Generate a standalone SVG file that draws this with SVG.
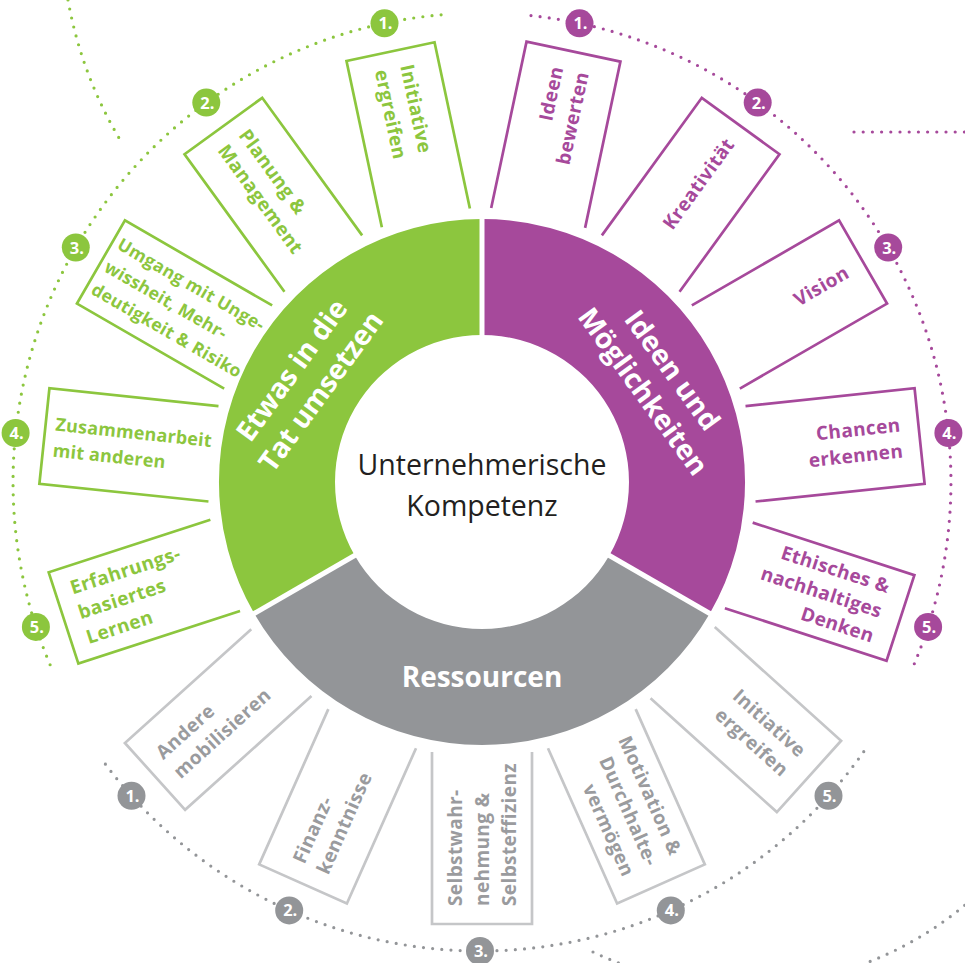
<svg xmlns="http://www.w3.org/2000/svg" width="965" height="963" viewBox="0 0 965 963">
<style>
.fr{fill:none;stroke-width:2.7}
.gf{stroke:#8cc63e}.pf{stroke:#a6499b}.yf{stroke:#c5c6c8}
.lb{font-family:'Open Sans','Noto Sans',sans-serif;font-weight:700;font-size:19px;letter-spacing:0.4px}
.gt{fill:#8cc63e}.pt{fill:#a6499b}.yt{fill:#9a9b9e}
.end{text-anchor:end}
.dot{fill:none;stroke-width:3.2;stroke-linecap:round;stroke-dasharray:0 9.2}
.num{font-family:'Open Sans','Noto Sans',sans-serif;font-weight:700;font-size:16.5px;fill:#fff;text-anchor:middle}
.seg{font-family:'Open Sans','Noto Sans',sans-serif;font-weight:700;font-size:28px;fill:#fff;text-anchor:middle}
.ctr{font-family:'Open Sans','Noto Sans',sans-serif;font-size:28.5px;fill:#231f20;text-anchor:middle}
</style>
<rect width="965" height="963" fill="#fff"/>
<g id="connectors">
<path class="dot" stroke="#8cc63e" d="M441.1,14.8 A469,469 0 0 0 53.6,672.8"/>
<path class="dot" stroke="#8cc63e" d="M68,0 A416,416 0 0 0 122,143"/>
<path class="dot" stroke="#a6499b" d="M531,15.6 A469,469 0 0 1 913.7,665.2"/>
<path class="dot" stroke="#a6499b" d="M854,132 H965"/>
<path class="dot" stroke="#939598" d="M105.4,764.2 A469,469 0 0 0 864.2,751"/>
<path class="dot" stroke="#939598" d="M593,952 A347,347 0 0 0 965,905"/>
</g>
<g id="ring">
<path id="seg-green" fill="#8cc63e" d="M482,219 A263,263 0 0 0 254.2,613.5 L354.7,555.5 A147,147 0 0 1 482,335 Z"/>
<path id="seg-purple" fill="#a6499b" d="M482,219 A263,263 0 0 1 709.8,613.5 L609.3,555.5 A147,147 0 0 0 482,335 Z"/>
<path id="seg-gray" fill="#939598" d="M254.2,613.5 A263,263 0 0 0 709.8,613.5 L609.3,555.5 A147,147 0 0 1 354.7,555.5 Z"/>
<g stroke="#fff" stroke-width="5">
<line x1="482" y1="340" x2="482" y2="212"/>
<line x1="356.4" y1="554.5" x2="249" y2="616.5"/>
<line x1="607.6" y1="554.5" x2="715" y2="616.5"/>
</g>
<text class="seg" transform="translate(304.5,379.5) rotate(-54)"><tspan x="0" y="-6">Etwas in die</tspan><tspan x="0" y="30">Tat umsetzen</tspan></text>
<text class="seg" transform="translate(659.5,379.5) rotate(54)"><tspan x="0" y="-6">Ideen und</tspan><tspan x="0" y="30">Möglichkeiten</tspan></text>
<text class="seg" x="482" y="687">Ressourcen</text>
</g>
<g id="center">
<text class="ctr" x="482" y="475">Unternehmerische</text>
<text class="ctr" x="482" y="516">Kompetenz</text>
</g>
<g id="box-g1" transform="translate(482,482) rotate(-102)"><path class="fr gf" d="M270,-45H440V45H270"/><text class="lb gt" transform="translate(424,0) rotate(180)"><tspan x="0" y="-6.5">Initiative</tspan><tspan x="0" y="19.5">ergreifen</tspan></text></g>
<g id="box-g2" transform="translate(482,482) rotate(-126)"><path class="fr gf" d="M270,-48H440V48H270"/><text class="lb gt" transform="translate(424,0) rotate(180)"><tspan x="0" y="-6.5">Planung &amp;</tspan><tspan x="0" y="19.5">Management</tspan></text></g>
<g id="box-g3" transform="translate(482,482) rotate(-150)"><path class="fr gf" d="M270,-48H440V48H270"/><text class="lb gt" style="font-size:17.5px;letter-spacing:0.3px" transform="translate(434,0) rotate(180)"><tspan x="0" y="-19.5">Umgang mit Unge-</tspan><tspan x="0" y="6.5">wissheit, Mehr-</tspan><tspan x="0" y="32.5">deutigkeit &amp; Risiko</tspan></text></g>
<g id="box-g4" transform="translate(482,482) rotate(-174)"><path class="fr gf" d="M270,-48H440V48H270"/><text class="lb gt" style="font-size:18px;letter-spacing:0.2px" transform="translate(430,0) rotate(180)"><tspan x="0" y="-6.5">Zusammenarbeit</tspan><tspan x="0" y="19.5">mit anderen</tspan></text></g>
<g id="box-g5" transform="translate(482,482) rotate(-198)"><path class="fr gf" d="M270,-48H440V48H270"/><text class="lb gt" transform="translate(424,0) rotate(180)"><tspan x="0" y="-19.5">Erfahrungs-</tspan><tspan x="0" y="6.5">basiertes</tspan><tspan x="0" y="32.5">Lernen</tspan></text></g>
<g id="box-p1" transform="translate(482,482) rotate(-78)"><path class="fr pf" d="M270,-48H440V48H270"/><text class="lb pt end" transform="translate(422,0)"><tspan x="0" y="-6.5">Ideen</tspan><tspan x="0" y="19.5">bewerten</tspan></text></g>
<g id="box-p2" transform="translate(482,482) rotate(-54)"><path class="fr pf" d="M270,-48H440V48H270"/><text class="lb pt end" transform="translate(422,0)"><tspan x="0" y="6.5">Kreativität</tspan></text></g>
<g id="box-p3" transform="translate(482,482) rotate(-30)"><path class="fr pf" d="M270,-48H440V48H270"/><text class="lb pt end" transform="translate(422,0)"><tspan x="0" y="6.5">Vision</tspan></text></g>
<g id="box-p4" transform="translate(482,482) rotate(-6)"><path class="fr pf" d="M270,-48H440V48H270"/><text class="lb pt end" transform="translate(422,0)"><tspan x="0" y="-6.5">Chancen</tspan><tspan x="0" y="19.5">erkennen</tspan></text></g>
<g id="box-p5" transform="translate(482,482) rotate(18)"><path class="fr pf" d="M270,-45H440V45H270"/><text class="lb pt end" transform="translate(420,0)"><tspan x="0" y="-19.5">Ethisches &amp;</tspan><tspan x="0" y="6.5">nachhaltiges</tspan><tspan x="0" y="32.5">Denken</tspan></text></g>
<g id="box-r1" transform="translate(482,482) rotate(-222)"><path class="fr yf" d="M270,-45H440V45H270"/><text class="lb yt" transform="translate(423,0) rotate(180)"><tspan x="0" y="-6.5">Andere</tspan><tspan x="0" y="19.5">mobilisieren</tspan></text></g>
<g id="box-r2" transform="translate(482,482) rotate(-246)"><path class="fr yf" d="M270,-48H440V48H270"/><text class="lb yt" transform="translate(422,0) rotate(180)"><tspan x="0" y="-6.5">Finanz-</tspan><tspan x="0" y="19.5">kenntnisse</tspan></text></g>
<g id="box-r3" transform="translate(482,482) rotate(-270)"><path class="fr yf" d="M270,-50H442V50H270"/><text class="lb yt" transform="translate(424,0) rotate(180)"><tspan x="0" y="-20.5">Selbstwahr-</tspan><tspan x="0" y="6.5">nehmung &amp;</tspan><tspan x="0" y="33.5">Selbsteffizienz</tspan></text></g>
<g id="box-r4" transform="translate(482,482) rotate(-294)"><path class="fr yf" d="M270,-48H440V48H270"/><text class="lb yt end" transform="translate(419,0)"><tspan x="0" y="-19.5">Motivation &amp;</tspan><tspan x="0" y="6.5">Durchhalte-</tspan><tspan x="0" y="32.5">vermögen</tspan></text></g>
<g id="box-r5" transform="translate(482,482) rotate(-318)"><path class="fr yf" d="M270,-48H440V48H270"/><text class="lb yt end" transform="translate(420,0)"><tspan x="0" y="-6.5">Initiative</tspan><tspan x="0" y="19.5">ergreifen</tspan></text></g>
<g id="numbers">
<g fill="#8cc63e">
<circle cx="384.5" cy="23.3" r="14"/><circle cx="206.3" cy="102.6" r="14"/><circle cx="75.8" cy="247.5" r="14"/><circle cx="15.6" cy="433" r="14"/><circle cx="35.9" cy="626.9" r="14"/>
</g>
<g fill="#a6499b">
<circle cx="579.5" cy="23.3" r="14"/><circle cx="757.7" cy="102.6" r="14"/><circle cx="888.2" cy="247.5" r="14"/><circle cx="948.4" cy="433" r="14"/><circle cx="928.1" cy="626.9" r="14"/>
</g>
<g fill="#939598">
<circle cx="131.5" cy="795.8" r="14"/><circle cx="289.2" cy="910.4" r="14"/><circle cx="480" cy="951" r="14"/><circle cx="670.8" cy="910.4" r="14"/><circle cx="828.5" cy="795.8" r="14"/>
</g>
<text class="num" x="385.5" y="29.3">1.</text><text class="num" x="207.3" y="108.6">2.</text><text class="num" x="76.8" y="253.5">3.</text><text class="num" x="16.6" y="439">4.</text><text class="num" x="36.9" y="632.9">5.</text>
<text class="num" x="580.5" y="29.3">1.</text><text class="num" x="758.7" y="108.6">2.</text><text class="num" x="889.2" y="253.5">3.</text><text class="num" x="949.4" y="439">4.</text><text class="num" x="929.1" y="632.9">5.</text>
<text class="num" x="132.5" y="801.8">1.</text><text class="num" x="290.2" y="916.4">2.</text><text class="num" x="481" y="957">3.</text><text class="num" x="671.8" y="916.4">4.</text><text class="num" x="829.5" y="801.8">5.</text>
</g>
</svg>
